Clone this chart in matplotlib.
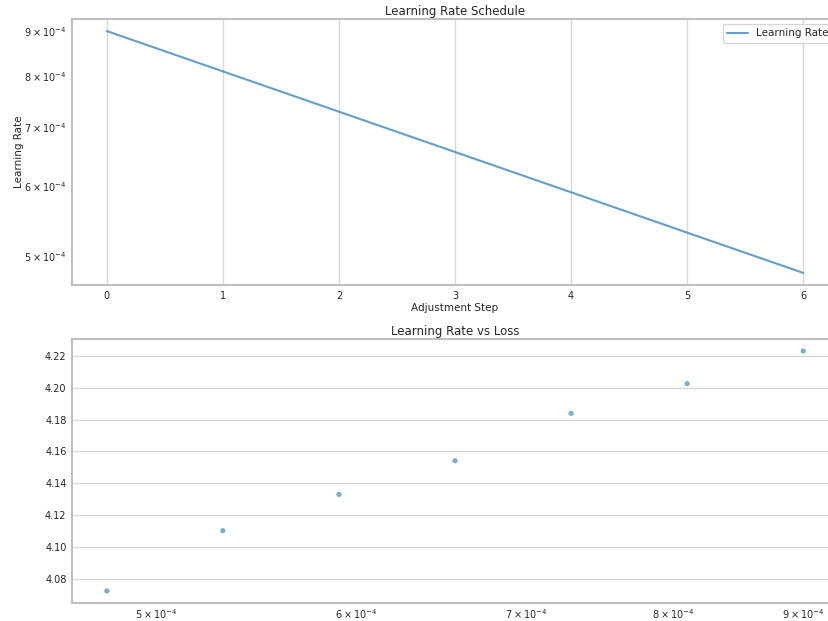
import matplotlib
matplotlib.use("Agg")
import matplotlib.pyplot as plt
import seaborn as sns

# values
steps = [0, 1, 2, 3, 4, 5, 6]
learning_rates = [9.0e-4, 8.1e-4, 7.29e-4, 6.561e-4, 5.905e-4, 5.314e-4, 4.783e-4]
losses = [4.2229, 4.2025, 4.1839, 4.1542, 4.1331, 4.1104, 4.0726]

sns.set_style("whitegrid")
plt.rcParams['font.family'] = ['DejaVu Sans']

fig = plt.figure(figsize=(8.29, 6.21), dpi=100)

# axes run past the right edge, like the cropped original
ax1 = fig.add_axes([0.0869, 0.5411, 0.924, 0.4283])
ax2 = fig.add_axes([0.0869, 0.0290, 0.924, 0.4250])

ax1.plot(steps, learning_rates, color="#1f77b4", alpha=0.7, linewidth=1.5, label="Learning Rate")
ax1.set_yscale("log")
ax1.set_title("Learning Rate Schedule", fontsize=8.5, pad=3)
ax1.set_xlabel("Adjustment Step", fontsize=7.5, labelpad=2)
ax1.set_ylabel("Learning Rate", fontsize=7.5, labelpad=0)
ax1.legend(loc="upper right", fontsize=7.5)

ax2.scatter(learning_rates, losses, color="#1f77b4", alpha=0.6, s=14, edgecolors="none")
ax2.set_xscale("log")
ax2.set_title("Learning Rate vs Loss", fontsize=8.5, pad=3)

for ax in (ax1, ax2):
    ax.tick_params(axis="both", which="both", labelsize=7, length=2, pad=2, colors=".8", labelcolor=".15")
    ax.grid(color=".85", linewidth=1)
    for sp in ax.spines.values():
        sp.set_color(".75")
        sp.set_linewidth(1.5)
ax2.tick_params(axis="x", which="both", pad=1)

fig.savefig("out.png", dpi=100)
